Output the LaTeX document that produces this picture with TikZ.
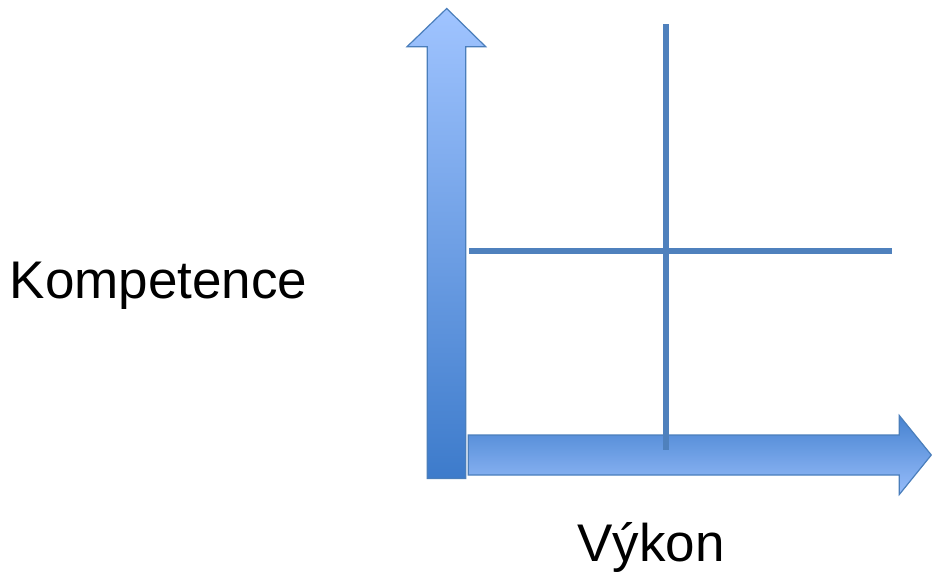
\documentclass[tikz,border=0pt]{standalone}
\usepackage{fontspec}
\setmainfont{Liberation Sans}
\begin{document}
\begin{tikzpicture}[x=1pt,y=-1pt,
  axisline/.style={draw=linecol,line width=5.5pt},
  arrowedge/.style={draw=edgecol,line width=1.2pt,line join=miter},
  lbl/.style={font=\fontsize{53}{60}\selectfont,text=black,inner sep=0pt}]
\definecolor{linecol}{HTML}{4F81BD}
\definecolor{edgecol}{HTML}{4A7EBB}
\definecolor{lightblue}{HTML}{A0C4FF}
\definecolor{darkblue}{HTML}{3D7BCB}
\useasboundingbox (0,0) rectangle (932,573);
% vertical arrow
\path[arrowedge,top color=lightblue,bottom color=darkblue]
  (446.7,8.5) -- (485.7,46.7) -- (465.7,46.7) -- (465.7,478.5) -- (427.3,478.5) -- (427.3,46.7) -- (407,46.7) -- cycle;
% horizontal arrow
\path[arrowedge,top color=darkblue!90!lightblue,bottom color=lightblue!90!darkblue]
  (468.3,435) -- (899.3,435) -- (899.3,415.5) -- (931.3,455) -- (899.3,494.5) -- (899.3,475) -- (468.3,475) -- cycle;
% quadrant lines
\coordinate (vt) at (666,24);
\coordinate (vb) at (666,450);
\coordinate (hl) at (469,251);
\coordinate (hr) at (892,251);
\draw[axisline] (vt) -- (vb);
\draw[axisline] (hl) -- (hr);
% labels
\node[lbl] (komp) at (158.5,285.5) {Kompetence};
\node[lbl] (vykon) at (651,547.5) {Výkon};
\end{tikzpicture}
\end{document}
